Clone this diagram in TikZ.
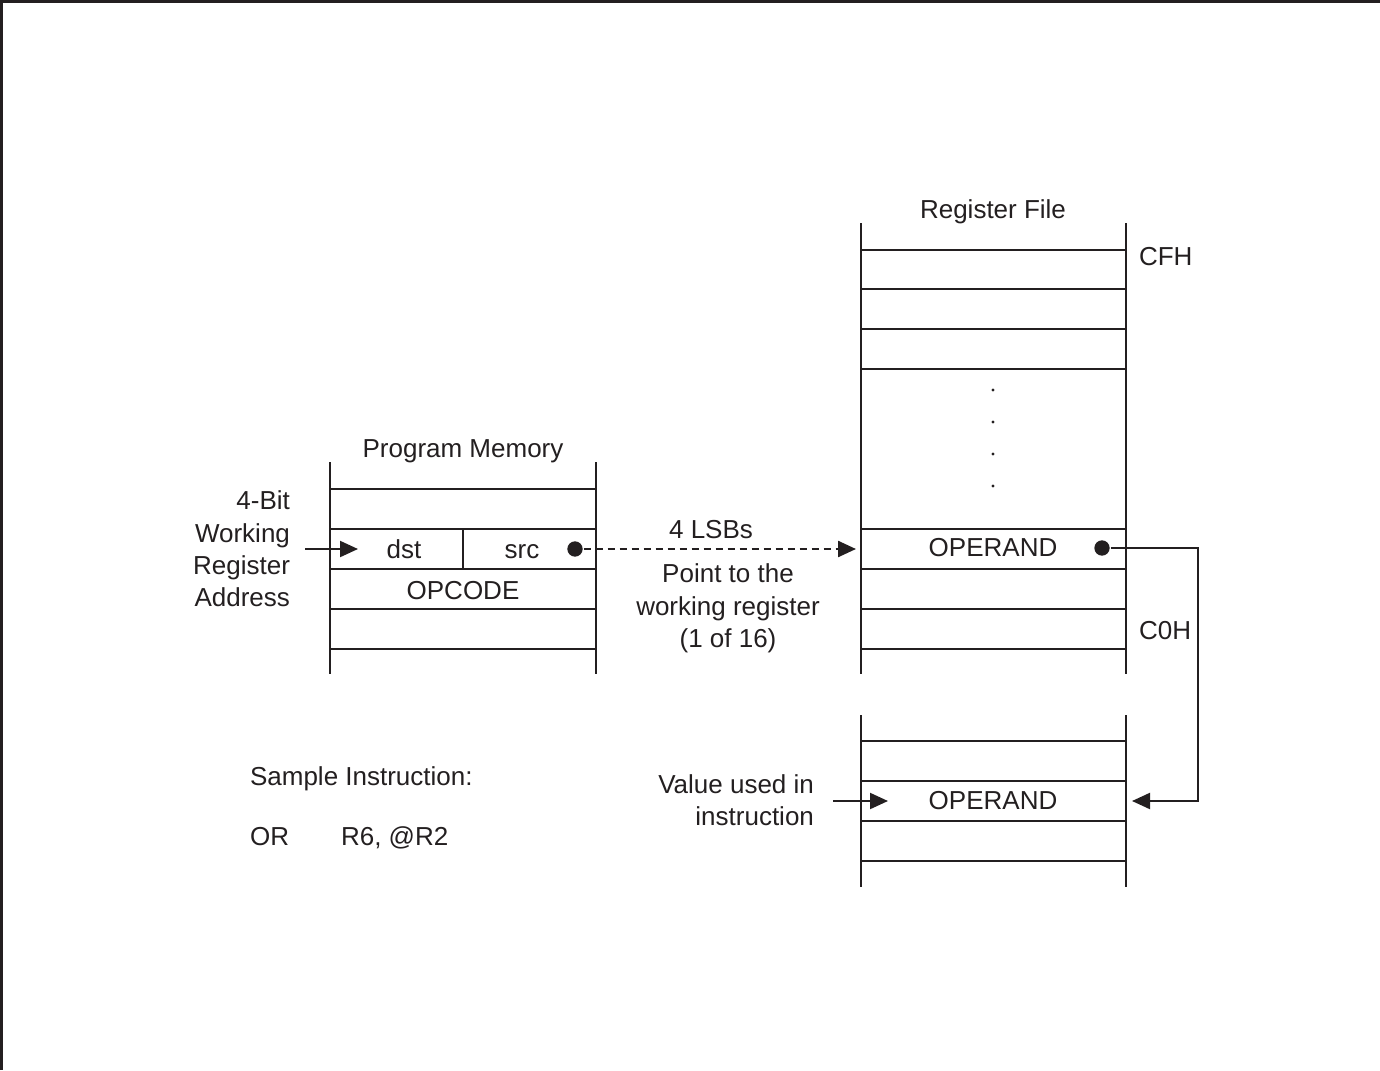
\documentclass[tikz,border=0pt]{standalone}
\usepackage{fontspec}
\setmainfont{Liberation Sans}
\usetikzlibrary{arrows.meta}

\definecolor{ink}{RGB}{35,31,32}
\tikzset{every picture/.style={line width=1.6pt, color=ink}}
\tikzset{
  txt/.style={inner sep=0pt, font=\fontsize{19.5}{24.3}\selectfont},
  bigdot/.style={circle, fill, inner sep=0pt, minimum size=11.5pt},
  tinydot/.style={circle, fill, inner sep=0pt, minimum size=2.4pt},
  arr/.style={-{Triangle[length=13.5pt,width=12pt]}},
}

\begin{document}
\begin{tikzpicture}[x=0.75pt,y=0.75pt,yscale=-1,xscale=1]
\useasboundingbox (0,0) rectangle (1380,1070);

%Frame
\draw [line width=1.9pt] (1.5,1070) -- (1.5,1.5) -- (1380,1.5) ;

%Program Memory
\draw    (330,462) -- (330,674) ;
\draw    (596,462) -- (596,674) ;
\foreach \y in {489,529,569,609,649} \draw (330,\y) -- (596,\y) ;
\draw    (463,529) -- (463,569) ;

%Register File
\draw    (861,223) -- (861,674) ;
\draw    (1126,223) -- (1126,674) ;
\foreach \y in {250,289,329,369,529,569,609,649} \draw (861,\y) -- (1126,\y) ;
\foreach \y [count=\i] in {390,422,454,486} \node [tinydot] (vdot\i) at (993,\y) {} ;

%Lower block
\draw    (861,715) -- (861,887) ;
\draw    (1126,715) -- (1126,887) ;
\foreach \y in {741,781,821,861} \draw (861,\y) -- (1126,\y) ;

% Text Node
\node [txt, anchor=base] (pmem) at (463,457) {Program Memory};
% Text Node
\node [txt, anchor=base] (rfile) at (993,218) {Register File};
% Text Node
\node [txt, anchor=east, align=right] (wreg) at (291,549) {4-Bit\\Working\\Register\\Address};
% Text Node
\node [txt, anchor=base] (dst) at (404,558) {dst};
% Text Node
\node [txt, anchor=base] (src) at (522,558) {src};
% Text Node
\node [txt] (opcode) at (463,591) {OPCODE};
% Text Node
\node [txt, anchor=base] (lsb) at (711,538) {4 LSBs};
% Text Node
\node [txt, anchor=north, align=center] (point) at (728,563) {Point to the\\working register\\(1 of 16)};
% Text Node
\node [txt] (opnd) at (993,548) {OPERAND};
% Text Node
\node [txt, anchor=west] (cfh) at (1138,257) {CFH};
% Text Node
\node [txt, anchor=west] (coh) at (1138,631) {C0H};
% Text Node
\node [txt] (opval) at (993,801) {OPERAND};
% Text Node
\node [txt, anchor=east, align=right] (used) at (815,800) {Value used in\\instruction};
% Text Node
\node [txt, anchor=base west] (sample) at (249,785) {Sample Instruction:};
% Text Node
\node [txt, anchor=base west] (opor) at (249,845) {OR};
% Text Node
\node [txt, anchor=base west] (oprs) at (340,845) {R6, @R2};

%Dots
\node [bigdot] (srcdot) at (575,549) {};
\node [bigdot] (opdot) at (1102,548) {};

%Connectors
\coordinate (wrin) at (305,549);
\coordinate (dsttip) at (358,549);
\coordinate (optip) at (856,549);
\coordinate (bend) at (1198,548);
\coordinate (rettip) at (1132,801);
\coordinate (valin) at (833,801);
\coordinate (valtip) at (888,801);

\draw [arr] (wrin) -- (dsttip) ;
\draw [arr, line width=1.8pt, dash pattern=on 5.5pt off 3.5pt] (srcdot) -- (optip) ;
\draw [arr] (opdot) -- (bend) |- (rettip) ;
\draw [arr] (valin) -- (valtip) ;

\end{tikzpicture}
\end{document}
